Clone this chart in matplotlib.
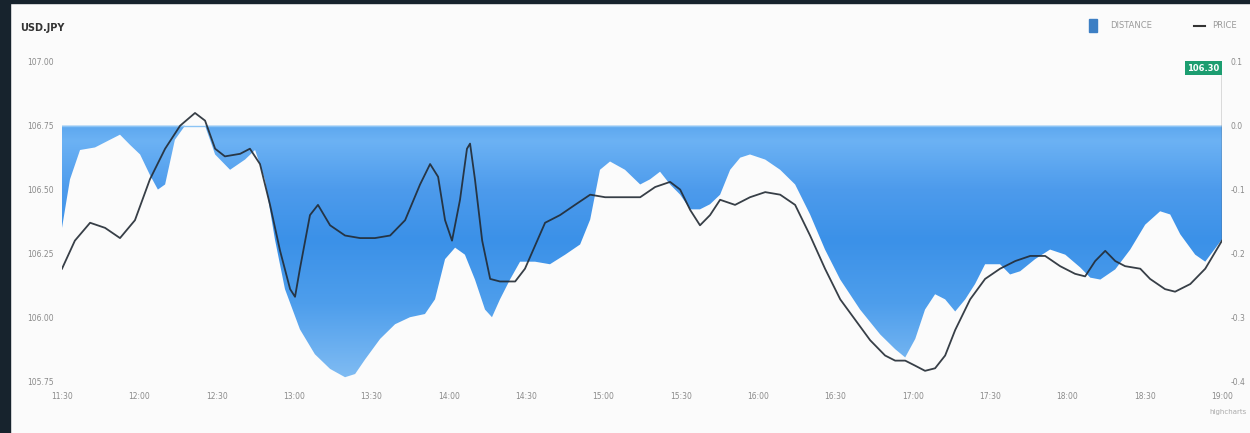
import numpy as np
import matplotlib
matplotlib.use("Agg")
from matplotlib import pyplot as plt
from matplotlib.colors import LinearSegmentedColormap
from matplotlib.patches import Rectangle
from matplotlib.lines import Line2D

# donnees (minutes depuis le debut de la seance)
price_t = [0, 5.0, 10.9, 16.7, 22.5, 28.3, 34.1, 40.0, 45.8, 51.6, 55.5, 59.4,
           63.2, 69.1, 72.9, 76.8, 80.7, 84.6, 88.5, 90.4, 92.3, 96.2, 99.3,
           104.0, 109.8, 115.6, 121.4, 127.3, 133.1, 138.9, 142.8, 145.9,
           148.6, 151.3, 154.4, 157.1, 158.3, 160.2, 163.0, 166.1, 169.9,
           175.8, 179.6, 183.5, 187.4, 193.2, 199.0, 204.9, 210.7, 216.5,
           224.3, 230.1, 235.9, 239.8, 243.7, 247.5, 251.4, 255.3, 261.1,
           266.9, 272.8, 278.6, 284.4, 290.2, 296.0, 301.9, 307.7, 313.5,
           319.3, 323.2, 327.1, 331.0, 334.8, 338.7, 342.6, 346.5, 352.3,
           358.1, 363.9, 369.8, 375.6, 381.4, 387.2, 393.0, 396.9, 400.8,
           404.7, 408.6, 412.4, 418.3, 422.1, 427.9, 431.8, 437.7, 443.5, 450.0]
price = [106.19, 106.30, 106.37, 106.35, 106.31, 106.38, 106.54, 106.66, 106.75,
         106.80, 106.77, 106.66, 106.63, 106.64, 106.66, 106.60, 106.44, 106.26,
         106.11, 106.08, 106.19, 106.40, 106.44, 106.36, 106.32, 106.31, 106.31,
         106.32, 106.38, 106.52, 106.60, 106.55, 106.38, 106.30, 106.46, 106.66,
         106.68, 106.54, 106.30, 106.15, 106.14, 106.14, 106.19, 106.28, 106.37,
         106.40, 106.44, 106.48, 106.47, 106.47, 106.47, 106.51, 106.53, 106.50,
         106.42, 106.36, 106.40, 106.46, 106.44, 106.47, 106.49, 106.48, 106.44,
         106.32, 106.19, 106.07, 105.99, 105.91, 105.85, 105.83, 105.83, 105.81,
         105.79, 105.80, 105.85, 105.95, 106.07, 106.15, 106.19, 106.22, 106.24,
         106.24, 106.20, 106.17, 106.16, 106.22, 106.26, 106.22, 106.20, 106.19,
         106.15, 106.11, 106.10, 106.13, 106.19, 106.30]

dist_t = [0, 3.1, 7.0, 12.8, 18.6, 22.5, 26.4, 30.3, 34.1, 37.2, 40.0, 43.8,
          47.7, 51.6, 55.5, 59.4, 65.2, 71.0, 74.9, 78.7, 82.6, 86.5, 92.3,
          98.1, 104.0, 109.8, 113.7, 117.6, 123.4, 129.2, 135.0, 140.8, 144.7,
          148.6, 152.5, 156.3, 160.2, 164.1, 166.8, 169.9, 173.8, 177.7, 183.5,
          189.3, 195.2, 201.0, 204.9, 208.7, 212.6, 218.4, 224.3, 228.1, 232.0,
          235.9, 239.8, 243.7, 247.5, 251.4, 255.3, 259.2, 263.1, 266.9, 272.8,
          278.6, 284.4, 290.2, 296.0, 301.9, 309.6, 317.4, 323.2, 327.1, 331.0,
          334.8, 338.7, 342.6, 346.5, 350.4, 354.2, 358.1, 363.9, 367.8, 371.7,
          377.5, 383.3, 389.2, 395.0, 398.9, 402.8, 408.6, 414.4, 420.2, 426.0,
          429.9, 433.8, 439.6, 443.5, 450.0]
distance = [-0.16, -0.084, -0.038, -0.034, -0.022, -0.014, -0.030, -0.045, -0.077,
            -0.100, -0.092, -0.022, 0.0, 0.02, 0.0, -0.045, -0.069, -0.053,
            -0.038, -0.084, -0.178, -0.256, -0.319, -0.358, -0.381, -0.394,
            -0.389, -0.366, -0.334, -0.311, -0.300, -0.295, -0.272, -0.209,
            -0.191, -0.202, -0.241, -0.288, -0.300, -0.272, -0.241, -0.213,
            -0.213, -0.217, -0.202, -0.186, -0.147, -0.069, -0.056, -0.069,
            -0.092, -0.084, -0.072, -0.092, -0.108, -0.131, -0.131, -0.123,
            -0.108, -0.069, -0.050, -0.045, -0.053, -0.069, -0.092, -0.139,
            -0.194, -0.241, -0.288, -0.327, -0.350, -0.363, -0.334, -0.288,
            -0.264, -0.272, -0.291, -0.272, -0.248, -0.217, -0.217, -0.233,
            -0.228, -0.209, -0.194, -0.202, -0.222, -0.238, -0.241, -0.225,
            -0.194, -0.155, -0.134, -0.139, -0.170, -0.202, -0.213, -0.178]

x_ticks = list(range(0, 451, 30))
x_labels = ["11:30", "12:00", "12:30", "13:00", "13:30", "14:00", "14:30", "15:00",
            "15:30", "16:00", "16:30", "17:00", "17:30", "18:00", "18:30", "19:00"]
price_ticks = [105.75, 106.00, 106.25, 106.50, 106.75, 107.00]
dist_ticks = [-0.4, -0.3, -0.2, -0.1, 0.0, 0.1]


def main():
    fig = plt.figure(figsize=(12.5, 4.33), dpi=100, facecolor="#fbfbfb")
    # bordure sombre
    fig.patches.append(Rectangle((0, 0), 0.008, 1, transform=fig.transFigure,
                                 color="#17232d", zorder=0))
    fig.patches.append(Rectangle((0, 0.992), 1, 0.008, transform=fig.transFigure,
                                 color="#17232d", zorder=0))

    ax = fig.add_axes([0.0496, 0.120, 0.928, 0.737])
    ax2 = ax.twinx()
    ax.set_zorder(ax2.get_zorder() + 1)
    ax.patch.set_visible(False)
    ax2.set_facecolor("#fbfbfb")

    # distance : remplissage en degrade
    d = np.minimum(np.array(distance), 0)
    poly = ax2.fill_between(dist_t, 0, d, facecolor="none", edgecolor="none")
    cmap = LinearSegmentedColormap.from_list("bleu", [
        (0.0, "#5ca7ef"), (0.06, "#6cb2f4"), (0.25, "#4d9bec"),
        (0.45, "#3b91e8"), (0.7, "#4e9eec"), (1.0, "#82bdf3")])
    grad = np.linspace(0, 1, 256).reshape(-1, 1)
    im = ax2.imshow(grad, cmap=cmap, aspect="auto", extent=[0, 450, -0.4, 0],
                    origin="upper", zorder=1)
    im.set_clip_path(poly.get_paths()[0], transform=ax2.transData)
    ax2.axhline(0, color="#8cc4f5", lw=1, zorder=2)

    # prix
    ax.plot(price_t, price, color="#222a33", lw=1.3, alpha=0.9, zorder=3)
    ax.plot([450, 450], [price[-1], 107.0], color="#555555", lw=1, zorder=2)
    ax.text(449, 106.975, "106.30", ha="right", va="center", fontsize=6,
            color="white", fontweight="bold", zorder=5,
            bbox=dict(boxstyle="square,pad=0.3", fc="#1c9d70", ec="none"))

    ax.set_xlim(0, 450)
    ax.set_ylim(105.75, 107.0)
    ax2.set_ylim(-0.4, 0.1)
    ax.set_xticks(x_ticks)
    ax.set_xticklabels(x_labels)
    ax.set_yticks(price_ticks)
    ax.set_yticklabels([f"{v:.2f}" for v in price_ticks])
    ax2.set_yticks(dist_ticks)
    ax2.set_yticklabels([f"{v:.1f}" for v in dist_ticks])
    for a in (ax, ax2):
        a.tick_params(length=0, labelsize=5.5, colors="#8a8a8a", pad=6)
        for s in a.spines.values():
            s.set_visible(False)
    ax.tick_params(axis="x", pad=8)

    fig.text(0.016, 0.935, "USD.JPY", fontsize=7, fontweight="bold", color="#333333",
             va="center")
    # legende
    fig.patches.append(Rectangle((0.8715, 0.925), 0.006, 0.03, transform=fig.transFigure,
                                 color="#3d7fc4"))
    fig.text(0.888, 0.94, "DISTANCE", fontsize=6, color="#9a9a9a", va="center")
    fig.lines.append(Line2D([0.955, 0.964], [0.94, 0.94], transform=fig.transFigure,
                            color="#333333", lw=1.5))
    fig.text(0.970, 0.94, "PRICE", fontsize=6, color="#9a9a9a", va="center")
    fig.text(0.997, 0.045, "highcharts", fontsize=5, color="#aaaaaa", ha="right")

    fig.savefig("out.png", dpi=100, facecolor=fig.get_facecolor())


if __name__ == "__main__":
    main()
